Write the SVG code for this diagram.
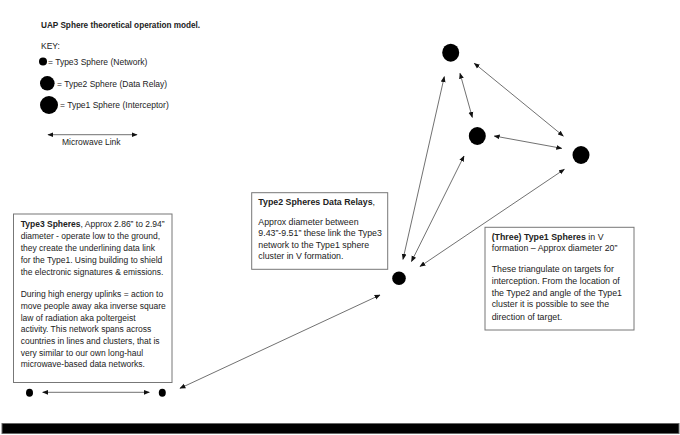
<svg xmlns="http://www.w3.org/2000/svg" width="680" height="435" viewBox="0 0 680 435">
<defs>
<style>
text{font-family:"Liberation Sans",Arial,sans-serif;font-size:8.8px;fill:#222}
.b{font-weight:bold}
.t{font-size:8.5px}
.s3{font-size:8.5px}
.ttl{font-size:8.2px;font-weight:bold}
.box{fill:#fff;stroke:#777;stroke-width:1}
.lnk{stroke:#333;stroke-width:0.7;fill:none;marker-start:url(#ah);marker-end:url(#ah)}
.dot{fill:#000}
</style>
<marker id="ah" viewBox="0 0 10 10" refX="9" refY="5" markerWidth="6" markerHeight="6" markerUnits="userSpaceOnUse" orient="auto-start-reverse">
<path d="M0,1 L10,5 L0,9 Z" fill="#111"/>
</marker>
</defs>
<rect width="680" height="435" fill="#fff"/>

<g id="key">
<text x="41" y="28" class="ttl">UAP Sphere theoretical operation model.</text>
<text x="41" y="49" class="t">KEY:</text>
<circle class="dot" cx="43" cy="61.5" r="4"/>
<text x="48" y="65" class="t">= Type3 Sphere (Network)</text>
<circle class="dot" cx="47.3" cy="83.3" r="7.3"/>
<text x="57" y="87" class="t">= Type2 Sphere (Data Relay)</text>
<circle class="dot" cx="49" cy="105" r="9"/>
<text x="60" y="108" class="t">= Type1 Sphere (Interceptor)</text>
<line class="lnk" x1="48" y1="134.7" x2="137" y2="134.7"/>
<text x="62" y="145" class="t">Microwave Link</text>
</g>

<g id="type3-box">
<rect class="box" x="13.5" y="214" width="158.5" height="168.5"/>
<text x="20.7" y="227" class="s3"><tspan class="b">Type3 Spheres</tspan>, Approx 2.86” to 2.94”</text>
<text x="20.7" y="239" class="s3">diameter - operate low to the ground,</text>
<text x="20.7" y="251" class="s3">they create the underlining data link</text>
<text x="20.7" y="263" class="s3">for the Type1. Using building to shield</text>
<text x="20.7" y="275" class="s3">the electronic signatures &amp; emissions.</text>
<text x="20.7" y="297" class="s3">During high energy uplinks = action to</text>
<text x="20.7" y="309" class="s3">move people away aka inverse square</text>
<text x="20.7" y="320.5" class="s3">law of radiation aka poltergeist</text>
<text x="20.7" y="332" class="s3">activity. This network spans across</text>
<text x="20.7" y="344" class="s3">countries in lines and clusters, that is</text>
<text x="20.7" y="355.5" class="s3">very similar to our own long-haul</text>
<text x="20.7" y="367" class="s3">microwave-based data networks.</text>
</g>

<g id="type2-box">
<rect class="box" x="251.7" y="192.7" width="136" height="76.6"/>
<text x="258.3" y="204.7" class="b">Type2 Spheres Data Relays<tspan font-weight="normal">,</tspan></text>
<text x="258.3" y="224.7">Approx diameter between</text>
<text x="258.3" y="236.3">9.43”-9.51” these link the Type3</text>
<text x="258.3" y="247.5">network to the Type1 sphere</text>
<text x="258.3" y="258.5">cluster in V formation.</text>
</g>

<g id="type1-box">
<rect class="box" x="485" y="227.3" width="149" height="102.7"/>
<text x="491.7" y="239.7"><tspan class="b">(Three) Type1 Spheres</tspan> in V</text>
<text x="491.7" y="250.5">formation – Approx diameter 20”</text>
<text x="491.7" y="272.3">These triangulate on targets for</text>
<text x="491.7" y="284">interception. From the location of</text>
<text x="491.7" y="295.7">the Type2 and angle of the Type1</text>
<text x="491.7" y="307.3">cluster it is possible to see the</text>
<text x="491.7" y="319.7">direction of target.</text>
</g>

<g id="type3-left"><ellipse class="dot" cx="29.5" cy="392.7" rx="3.5" ry="4"/></g>
<g id="type3-right"><ellipse class="dot" cx="162.3" cy="392.7" rx="3.5" ry="4"/></g>
<g id="type2"><circle class="dot" cx="399" cy="278.3" r="6.8"/></g>
<g id="type1-top"><ellipse class="dot" cx="450.7" cy="52.7" rx="8.5" ry="9"/></g>
<g id="type1-mid"><ellipse class="dot" cx="477.3" cy="136" rx="8.5" ry="9"/></g>
<g id="type1-right"><ellipse class="dot" cx="581" cy="155" rx="8.5" ry="9"/></g>

<g id="connectors">
<line class="lnk" x1="42.7" y1="392.3" x2="149.3" y2="392.3"/>
<line class="lnk" x1="180" y1="388.3" x2="380" y2="295"/>
<line class="lnk" x1="444.3" y1="76.7" x2="403" y2="259.3"/>
<line class="lnk" x1="460" y1="73.3" x2="472.3" y2="117.3"/>
<line class="lnk" x1="474.3" y1="63.3" x2="563.3" y2="136"/>
<line class="lnk" x1="494.3" y1="136" x2="561.7" y2="148.3"/>
<line class="lnk" x1="464" y1="156" x2="411.5" y2="261.5"/>
<line class="lnk" x1="564.3" y1="169.3" x2="420" y2="266.5"/>
</g>

<g id="ground">
<rect x="2" y="423.5" width="677" height="10" fill="#000" stroke="#666" stroke-width="1"/>
</g>
</svg>
